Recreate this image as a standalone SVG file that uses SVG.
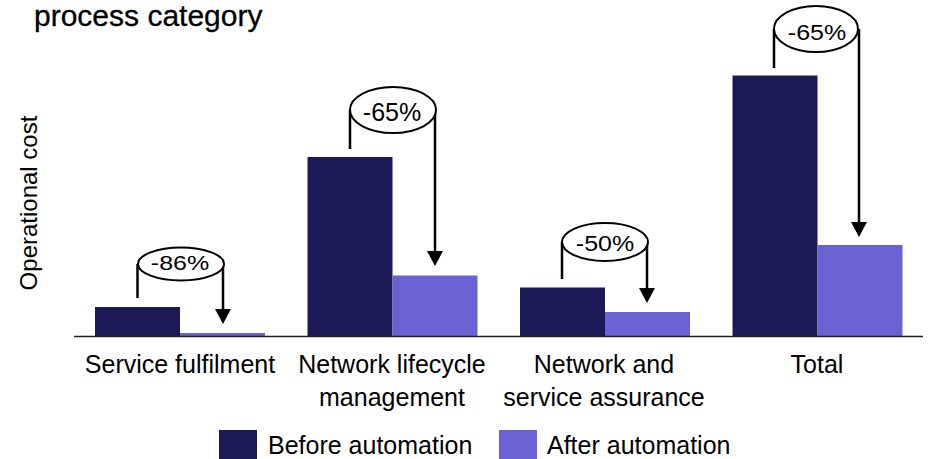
<svg xmlns="http://www.w3.org/2000/svg" width="928" height="459" viewBox="0 0 928 459">
  <style>
    text { font-family: "Liberation Sans", Arial, sans-serif; fill: #000; }
    .title { font-size: 30px; stroke: #000; stroke-width: 0.3; }
    .cat { font-size: 25px; text-anchor: middle; }
    .axis-label { font-size: 24px; text-anchor: middle; }
    .pct { font-size: 25px; text-anchor: middle; }
    .legend { font-size: 25px; }
    .before { fill: #1b1956; }
    .after { fill: #6a62d3; }
    .bubble { fill: #fff; stroke: #000; stroke-width: 2; }
    .conn { fill: none; stroke: #000; stroke-width: 2.5; }
    .axis { stroke: #222; stroke-width: 1.5; }
  </style>
  <defs>
    <marker id="arrow" viewBox="0 0 15 16" refX="11" refY="8" markerWidth="15" markerHeight="16" markerUnits="userSpaceOnUse" orient="auto">
      <path d="M0,0 L15,8 L0,16 Z" fill="#000"/>
    </marker>
  </defs>

  <text class="title" x="34" y="26">process category</text>

  <text class="axis-label" transform="translate(37,203) rotate(-90)">Operational cost</text>

  <g id="bars">
    <g id="service-fulfilment">
      <rect class="before" x="95" y="307" width="85" height="29"/>
      <rect class="after" x="180" y="333" width="85" height="3"/>
      <text class="cat" x="180" y="373">Service fulfilment</text>
    </g>
    <g id="network-lifecycle">
      <rect class="before" x="307.5" y="157" width="85" height="179"/>
      <rect class="after" x="392.5" y="275.5" width="85" height="60.5"/>
      <text class="cat" x="392" y="373">Network lifecycle</text>
      <text class="cat" x="392" y="406">management</text>
    </g>
    <g id="network-service-assurance">
      <rect class="before" x="520" y="287.5" width="85" height="48.5"/>
      <rect class="after" x="605" y="312" width="85" height="24"/>
      <text class="cat" x="604" y="373">Network and</text>
      <text class="cat" x="604" y="406">service assurance</text>
    </g>
    <g id="total">
      <rect class="before" x="732.5" y="75.5" width="85" height="260.5"/>
      <rect class="after" x="817.5" y="245" width="85" height="91"/>
      <text class="cat" x="817" y="373">Total</text>
    </g>
  </g>

  <line class="axis" x1="74" y1="336.5" x2="923" y2="336.5"/>

  <g id="connectors">
    <path class="conn" d="M137.5,264 V298"/>
    <path class="conn" d="M223,264 V320" marker-end="url(#arrow)"/>
    <path class="conn" d="M350,110 V149"/>
    <path class="conn" d="M435,110 V262" marker-end="url(#arrow)"/>
    <path class="conn" d="M562,242 V279"/>
    <path class="conn" d="M647,242 V299" marker-end="url(#arrow)"/>
    <path class="conn" d="M774,29 V68"/>
    <path class="conn" d="M859,29 V233" marker-end="url(#arrow)"/>
  </g>

  <g id="label-86">
    <ellipse class="bubble" cx="181" cy="264" rx="43" ry="16.5"/>
    <text class="pct" transform="translate(180,269.5) scale(1,0.8)">-86%</text>
  </g>
  <g id="label-65a">
    <ellipse class="bubble" cx="393" cy="110" rx="43" ry="23"/>
    <text class="pct" transform="translate(392,120.5)">-65%</text>
  </g>
  <g id="label-50">
    <ellipse class="bubble" cx="605" cy="242" rx="43" ry="19"/>
    <text class="pct" transform="translate(605,250.7) scale(1,0.87)">-50%</text>
  </g>
  <g id="label-65b">
    <ellipse class="bubble" cx="816" cy="29" rx="42" ry="23"/>
    <text class="pct" transform="translate(817,40) scale(1,0.9)">-65%</text>
  </g>

  <g id="legend">
    <rect class="before" x="219" y="430" width="38" height="29"/>
    <text class="legend" x="268" y="454">Before automation</text>
    <rect class="after" x="499" y="430" width="38" height="29"/>
    <text class="legend" x="547" y="454">After automation</text>
  </g>
</svg>
